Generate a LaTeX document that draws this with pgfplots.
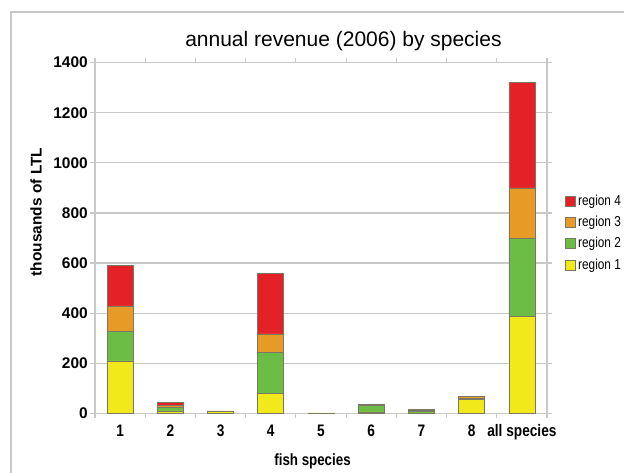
\documentclass[border=0pt]{standalone}
\usepackage{pgfplots}
\pgfplotsset{compat=1.18}
\usepackage{fontspec}
\setmainfont{Liberation Sans}
\newfontfamily\narrow[FakeStretch=0.82]{Liberation Sans}
\definecolor{rred}{RGB}{229,33,40}
\definecolor{rorange}{RGB}{232,154,38}
\definecolor{rgreen}{RGB}{108,189,69}
\definecolor{ryellow}{RGB}{242,233,26}
\definecolor{edge}{RGB}{120,120,100}
\definecolor{gridc}{RGB}{200,200,200}
\begin{document}
\begin{tikzpicture}[x=1pt,y=1pt]
\useasboundingbox (0,0) rectangle (468,354);
\clip (0,0) rectangle (468,354);
\draw[gridc, line width=0.8pt] (8.25,-10) -- (8.25,345) -- (520,345);
\begin{axis}[
  at={(71.25pt,44pt)}, anchor=south west,
  scale only axis, width=339pt, height=263pt,
  ybar stacked, bar width=19.5pt,
  xmin=0.5, xmax=9.5, ymin=0, ymax=1400,
  ytick={0,200,...,1400},
  ymajorgrids,
  grid style={gridc, line width=0.9pt},
  xtick={0.5,1.5,...,9.5}, xticklabels={},
  extra x ticks={1,2,3,4,5,6,7,8,9},
  extra x tick labels={1,2,3,4,5,6,7,8,all species},
  extra x tick style={major tick length=0pt, grid=none,
    xticklabel style={anchor=base, yshift=-17.5pt, inner sep=0pt,
      font=\narrow\bfseries\fontsize{12.5}{14}\selectfont}},
  tick align=outside, major tick length=3.75pt,
  tick style={gridc, line width=0.9pt},
  axis line style={gridc, line width=0.9pt},
  yticklabel style={anchor=east, inner sep=0pt, xshift=-1.5pt,
    font=\bfseries\fontsize{11.6}{13}\selectfont},
  /pgf/number format/assume math mode=true,
  /pgf/number format/1000 sep={},
  every axis plot/.append style={draw=edge, line width=0.5pt},
  reverse legend,
  legend cell align=left,
  legend image code/.code={\draw[#1] (0pt,-3.75pt) rectangle (7.5pt,3.75pt);},
  legend style={at={(1.039,0.632)}, anchor=north west, draw=none, fill=none,
    inner sep=0pt, font=\narrow\fontsize{10.8}{12}\selectfont,
    row sep=2.7pt, nodes={inner xsep=2pt}},
]
\addplot[fill=ryellow] coordinates {(1,209) (2,10) (3,8) (4,80) (5,2) (6,6) (7,2) (8,57) (9,386)};
\addplot[fill=rgreen] coordinates {(1,117) (2,14) (3,0) (4,162) (5,0) (6,27) (7,7) (8,1) (9,314)};
\addplot[fill=rorange] coordinates {(1,103) (2,7) (3,2) (4,75) (5,0) (6,2) (7,2) (8,10) (9,200)};
\addplot[fill=rred] coordinates {(1,160) (2,12) (3,0) (4,240) (5,0) (6,1) (7,5) (8,1) (9,422)};
\legend{region 1,region 2,region 3,region 4}
\end{axis}
\node[anchor=base, font=\fontsize{15.75}{18}\selectfont] at (257.6,319) {annual revenue (2006) by species};
\node[rotate=90, font=\bfseries\fontsize{11.6}{14}\selectfont] at (27,195) {thousands of LTL};
\node[anchor=base, font=\narrow\bfseries\fontsize{12.2}{15}\selectfont] at (234.4,4.7) {fish species};
\end{tikzpicture}
\end{document}
